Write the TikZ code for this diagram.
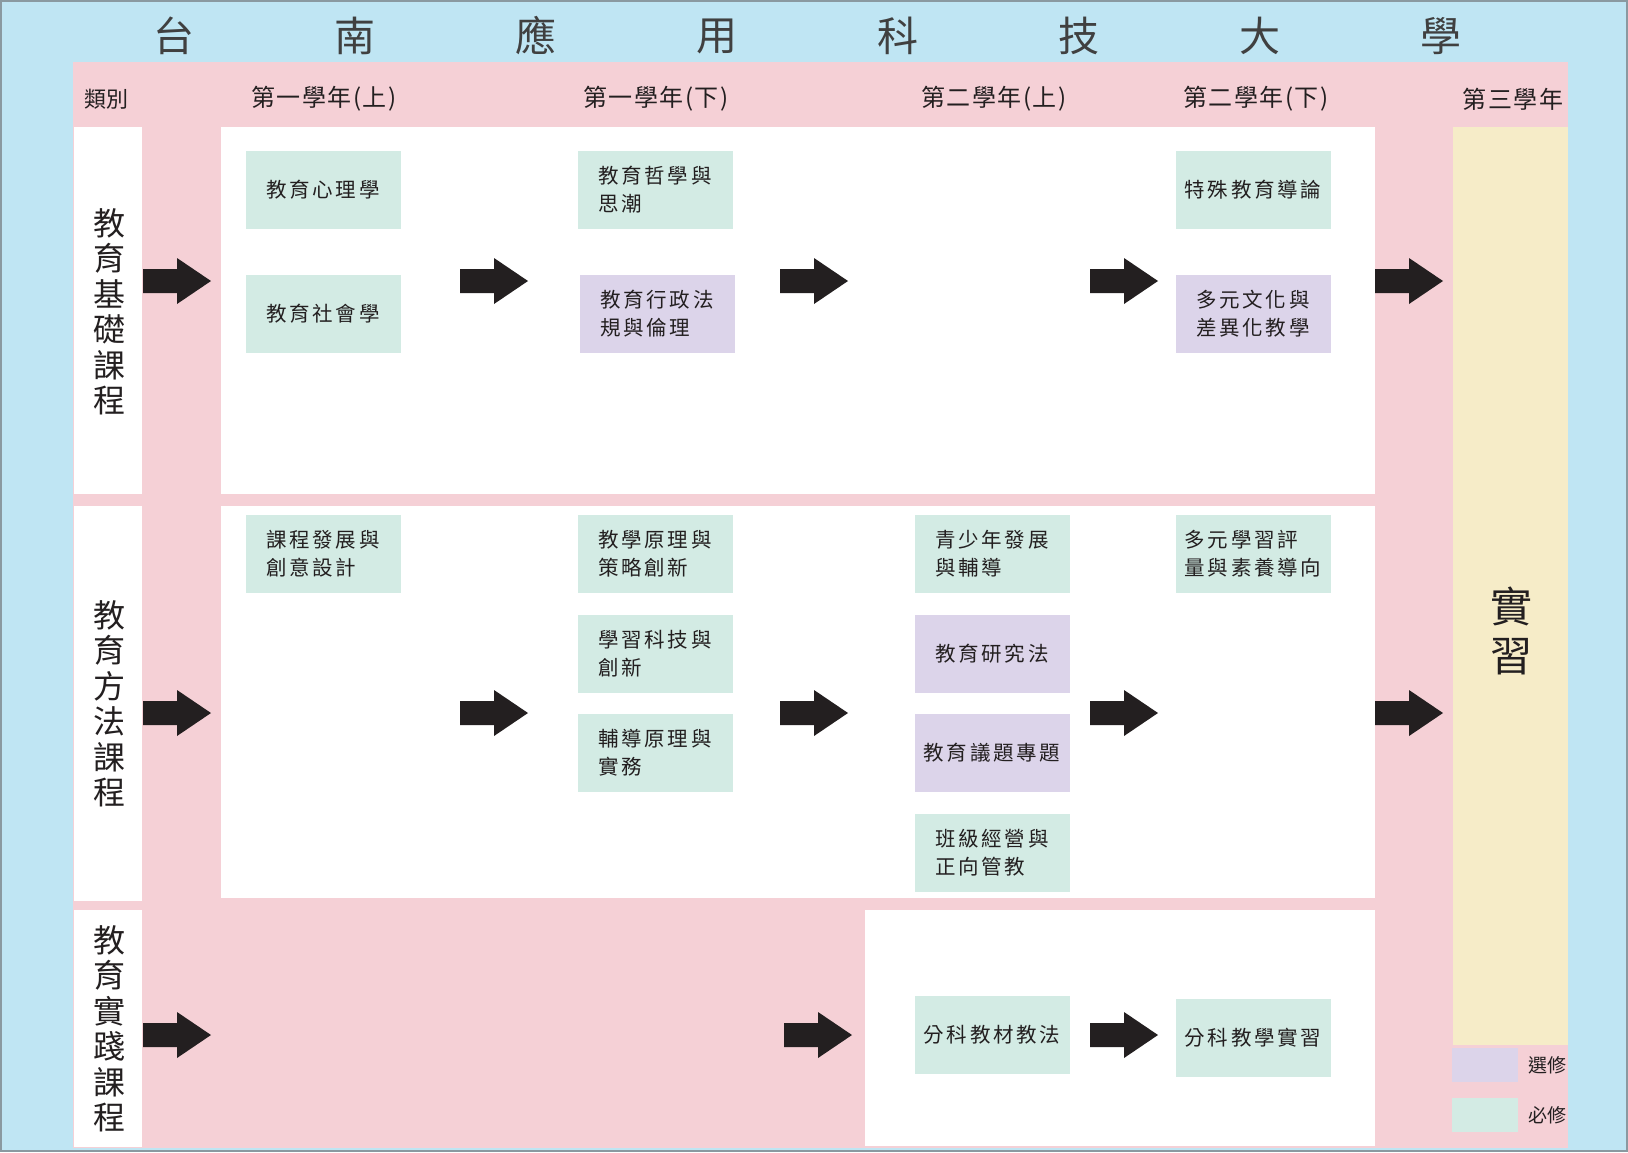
\documentclass[tikz,border=0pt]{standalone}
\usepackage{fontspec}
\setmainfont{Noto Sans CJK TC}
\usepackage{tikz}
\usetikzlibrary{positioning}

\definecolor{bgblue}{HTML}{BFE5F3}
\definecolor{bandpink}{HTML}{F5D0D6}
\definecolor{mustgreen}{HTML}{D3EBE4}
\definecolor{electpurple}{HTML}{DCD4EA}
\definecolor{practyellow}{HTML}{F6ECC8}
\definecolor{inkdark}{HTML}{231F20}
\definecolor{framegray}{HTML}{8A99A0}

\begin{document}
\begin{tikzpicture}[x=1pt, y=-1pt,
  course/.style={rectangle, minimum width=155pt, minimum height=78pt, inner sep=0pt,
    align=left, text=inkdark, font=\fontsize{20.5}{28}\selectfont\addfontfeature{LetterSpace=13}},
  must/.style={course, fill=mustgreen},
  elect/.style={course, fill=electpurple},
  yearhead/.style={inner sep=0pt, text=inkdark, font=\fontsize{24}{26}\selectfont\addfontfeature{LetterSpace=6}},
  catlabel/.style={inner sep=0pt, align=center, text=inkdark, font=\fontsize{32}{35.5}\selectfont},
  titlechar/.style={inner sep=0pt, text=black!75, font=\fontsize{41}{44}\selectfont},
  legendbox/.style={rectangle, minimum width=66pt, minimum height=34pt, inner sep=0pt},
  legendtext/.style={inner sep=0pt, text=inkdark, font=\fontsize{19}{22}\selectfont}
]

  % Background and frame
  \useasboundingbox (0,0) rectangle (1628,1152);
  \fill[bgblue] (0,0) rectangle (1628,1152);
  \fill[bandpink] (73,62) rectangle (1568,1148);

  % White panels
  \fill[white] (74,127) rectangle (142,494);
  \fill[white] (74,506) rectangle (142,901);
  \fill[white] (74,910) rectangle (142,1147);
  \fill[white] (221,127) rectangle (1375,494);
  \fill[white] (221,506) rectangle (1375,898);
  \fill[white] (865,910) rectangle (1375,1146);

  % Third year column
  \fill[practyellow] (1453,127) rectangle (1568,1045);
  \node[inner sep=0pt, align=center, text=inkdark, font=\fontsize{42}{49}\selectfont]
    (intern) at (1511,631) {實\\習};

  % Title
  \foreach \ch [count=\i from 0] in {台,南,應,用,科,技,大,學}
    \node[titlechar] (t\i) at (174+181*\i,36) {\ch};

  % Header row
  \node[yearhead, font=\fontsize{22}{24}\selectfont] (h0) at (106,99) {類別};
  \node[yearhead] (h1) at (324,99) {第一學年(上)};
  \node[yearhead] (h2) at (656,99) {第一學年(下)};
  \node[yearhead] (h3) at (994,99) {第二學年(上)};
  \node[yearhead] (h4) at (1256,99) {第二學年(下)};
  \node[yearhead] (h5) at (1513,99) {第三學年};

  % Category labels
  \node[catlabel] (cat1) at (109,312) {教\\育\\基\\礎\\課\\程};
  \node[catlabel] (cat2) at (109,704) {教\\育\\方\\法\\課\\程};
  \node[catlabel] (cat3) at (109,1029) {教\\育\\實\\踐\\課\\程};

  % Block arrows
  \foreach \ax in {143,460,780,1090,1375} {
    \fill[inkdark] (\ax,281) ++(0,-12) -- ++(34,0) -- ++(0,-11) -- ++(34,23)
      -- ++(-34,23) -- ++(0,-11) -- ++(-34,0) -- cycle;
    \fill[inkdark] (\ax,713) ++(0,-12) -- ++(34,0) -- ++(0,-11) -- ++(34,23)
      -- ++(-34,23) -- ++(0,-11) -- ++(-34,0) -- cycle;
  }
  \foreach \ax in {143,784,1090}
    \fill[inkdark] (\ax,1035) ++(0,-12) -- ++(34,0) -- ++(0,-11) -- ++(34,23)
      -- ++(-34,23) -- ++(0,-11) -- ++(-34,0) -- cycle;

  % Foundation courses
  \node[must]  (c11) at (323,189.5) {教育心理學};
  \node[must]  (c12) at (323,314) {教育社會學};
  \node[must]  (c13) at (655,189.5) {教育哲學與\\思潮};
  \node[elect] (c14) at (657,314) {教育行政法\\規與倫理};
  \node[must]  (c15) at (1253,189.5) {特殊教育導論};
  \node[elect] (c16) at (1253,314) {多元文化與\\差異化教學};

  % Method courses
  \node[must]  (c21) at (323,553.5) {課程發展與\\創意設計};
  \node[must]  (c22) at (655,553.5) {教學原理與\\策略創新};
  \node[must]  (c23) at (655,654) {學習科技與\\創新};
  \node[must]  (c24) at (655,753) {輔導原理與\\實務};
  \node[must]  (c25) at (992,553.5) {青少年發展\\與輔導};
  \node[elect] (c26) at (992,654) {教育研究法};
  \node[elect] (c27) at (992,753) {教育議題專題};
  \node[must]  (c28) at (992,853) {班級經營與\\正向管教};
  \node[must]  (c29) at (1253,553.5) {多元學習評\\量與素養導向};

  % Practice courses
  \node[must]  (c31) at (992,1035) {分科教材教法};
  \node[must]  (c32) at (1253,1038) {分科教學實習};

  % Legend
  \node[legendbox, fill=electpurple] (lgelect) at (1485,1065) {};
  \node[legendtext, right=10pt of lgelect] (lgelecttxt) {選修};
  \node[legendbox, fill=mustgreen] (lgmust) at (1485,1115) {};
  \node[legendtext, right=10pt of lgmust] (lgmusttxt) {必修};

  % Outer frame
  \draw[framegray, line width=2pt] (1,1) rectangle (1627,1151);

\end{tikzpicture}
\end{document}
